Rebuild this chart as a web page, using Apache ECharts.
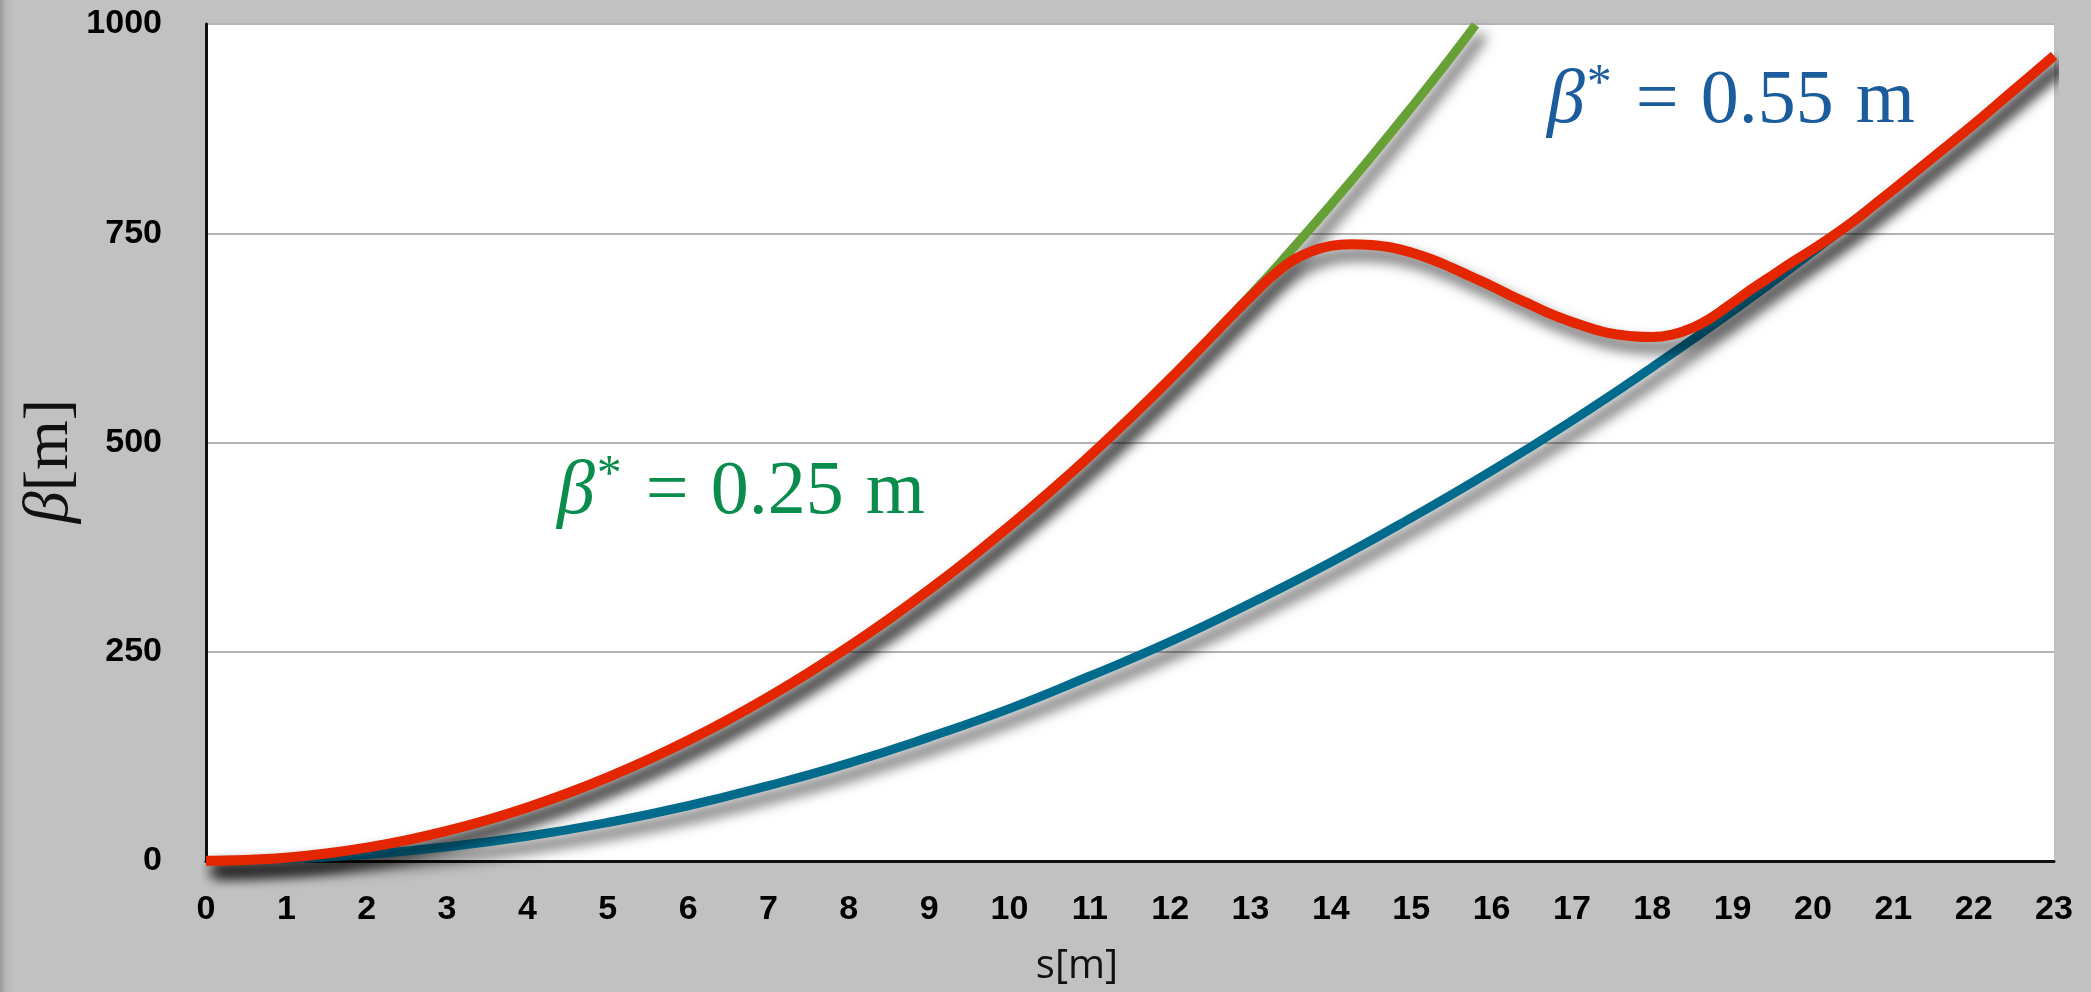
<!DOCTYPE html>
<html>
<head>
<meta charset="utf-8">
<script src="https://cdn.jsdelivr.net/npm/echarts@6/dist/echarts.min.js"></script>
<style>
html,body{margin:0;padding:0;width:2091px;height:992px;overflow:hidden;
background:linear-gradient(to right,#9c9c9c 0px,#b8b8b8 6px,#c1c1c1 14px,#c1c1c1 100%);}
#c{width:2091px;height:992px;}
</style>
</head>
<body>
<div id="c"></div>
<script>
// Tick labels
const xTicks = [0,1,2,3,4,5,6,7,8,9,10,11,12,13,14,15,16,17,18,19,20,21,22,23];
const yTicks = [0,250,500,750,1000];

// beta* = 0.25 m (green)
const sGreen    = [0,1,2,3,4,5,6,7,8,9,10,11,12,13,13.5,14,14.5,15,15.5,15.8];
const betaGreen = [0.25,4,16,36,64,100,144,196,256,324,400,484,576,676,729,784,841,900,961,999];

// beta* = 0.55 m (blue)
const sBlue    = [0,1,2,3,4,5,6,7,8,9,10,11,12,13,14,15,16,17,18,19,20,21,22,23];
const betaBlue = [0.55,2.4,7.8,16.9,29.6,46,66,90,117,148,182,221,262,308,357,410,466,526,590,657,728,802,880,962];

// transition optics (red)
const sRed    = [0,0.5,1,1.5,2,2.5,3,3.5,4,4.5,5,5.5,6,6.5,7,7.5,8,8.5,9,9.5,10,10.5,11,11.5,12,
                 12.5,12.75,13,13.25,13.5,13.75,14,14.25,14.5,14.75,15,15.25,15.5,15.75,16,16.25,16.5,16.75,
                 17,17.25,17.5,17.75,18,18.25,18.5,18.75,19,19.25,19.5,19.75,20,20.25,20.5,20.75,
                 21,21.5,22,22.5,23];
const betaRed = [0.25,1.25,4,9,16,25,36,49,64,81,100,121,144,169,196,225,256,289,324,361,400,441,484,529,576,
                 625,650,674,697,716,728,735,737,736,733,727,719,709,698,687,675,664,653,
                 644,636,630,627,626,629,637,650,667,684,700,716,731,747,764,783,
                 802,841,880,921,962];

const pairs = (xs, ys) => xs.map((x, i) => [x, ys[i]]);

const shadow = {shadowColor:'rgba(0,0,0,0.7)', shadowBlur:14, shadowOffsetX:7, shadowOffsetY:10};
const serif = 'Liberation Serif, serif';

function label(num, color) {
  return {
    text:'{b|β}{s|*}{e|=}{n|' + num + '}{m|m}', align:'left', verticalAlign:'middle',
    rich:{
      b:{fontFamily:serif, fontStyle:'italic', fontSize:76, fill:color},
      s:{fontFamily:serif, fontSize:50, fill:color, verticalAlign:'top', padding:[0,0,34,2]},
      e:{fontFamily:serif, fontSize:76, fill:color, padding:[0,22,0,24]},
      n:{fontFamily:serif, fontSize:76, fill:color},
      m:{fontFamily:serif, fontSize:76, fill:color, padding:[0,0,0,22]}
    }
  };
}

const chart = echarts.init(document.getElementById('c'), null, {renderer:'canvas'});
chart.setOption({
  backgroundColor:'transparent',
  animation:false,
  grid:{left:206, right:37, top:24, bottom:131, show:true, backgroundColor:'#ffffff', borderWidth:0},
  xAxis:{
    type:'value', min:xTicks[0], max:xTicks[xTicks.length-1], interval:1,
    axisLine:{show:true, onZero:false, lineStyle:{color:'#111', width:3}},
    axisTick:{show:false},
    splitLine:{show:false},
    axisLabel:{color:'#000', fontFamily:'Liberation Sans, Arial, sans-serif', fontWeight:'bold', fontSize:34, margin:32,
      formatter:v => xTicks.includes(v) ? String(v) : ''}
  },
  yAxis:{
    type:'value', min:yTicks[0], max:yTicks[yTicks.length-1], interval:250,
    axisLine:{show:true, lineStyle:{color:'#111', width:3}},
    axisTick:{show:false},
    splitLine:{show:true, lineStyle:{color:'#b4b4b4', width:2}},
    axisLabel:{color:'#000', fontFamily:'Liberation Sans, Arial, sans-serif', fontWeight:'bold', fontSize:34, margin:44,
      formatter:v => yTicks.includes(v) ? String(v) : ''}
  },
  series:[
    {type:'line', name:'green', data:pairs(sGreen, betaGreen), smooth:0.5, showSymbol:false, clip:false,
      lineStyle:Object.assign({color:'#67a136', width:9}, shadow), z:2},
    {type:'line', name:'blue', data:pairs(sBlue, betaBlue), smooth:0.5, showSymbol:false, clip:false,
      lineStyle:Object.assign({color:'#006b8c', width:9}, shadow), z:3},
    {type:'line', name:'red', data:pairs(sRed, betaRed), smooth:0.4, showSymbol:false, clip:false,
      lineStyle:Object.assign({color:'#e32600', width:10}, shadow), z:4}
  ],
  graphic:[
    {type:'text', x:1077, y:967, z:10, style:{text:'s[m]', align:'center', verticalAlign:'middle', fill:'#111', font:'40px "Open Sans", "Liberation Sans", sans-serif'}},
    {type:'text', x:50, y:461, rotation:Math.PI/2, z:10,
      style:{text:'{b|β}{n|[m]}', align:'center', verticalAlign:'middle',
        rich:{b:{fontFamily:serif, fontStyle:'italic', fontSize:64, fill:'#111'},
              n:{fontFamily:serif, fontSize:64, fill:'#111'}}}},
    {type:'text', x:557, y:493, z:10, style:label('0.25', '#0a8c4c')},
    {type:'text', x:1547, y:102, z:10, style:label('0.55', '#1b5c9c')}
  ]
});
</script>
</body>
</html>
